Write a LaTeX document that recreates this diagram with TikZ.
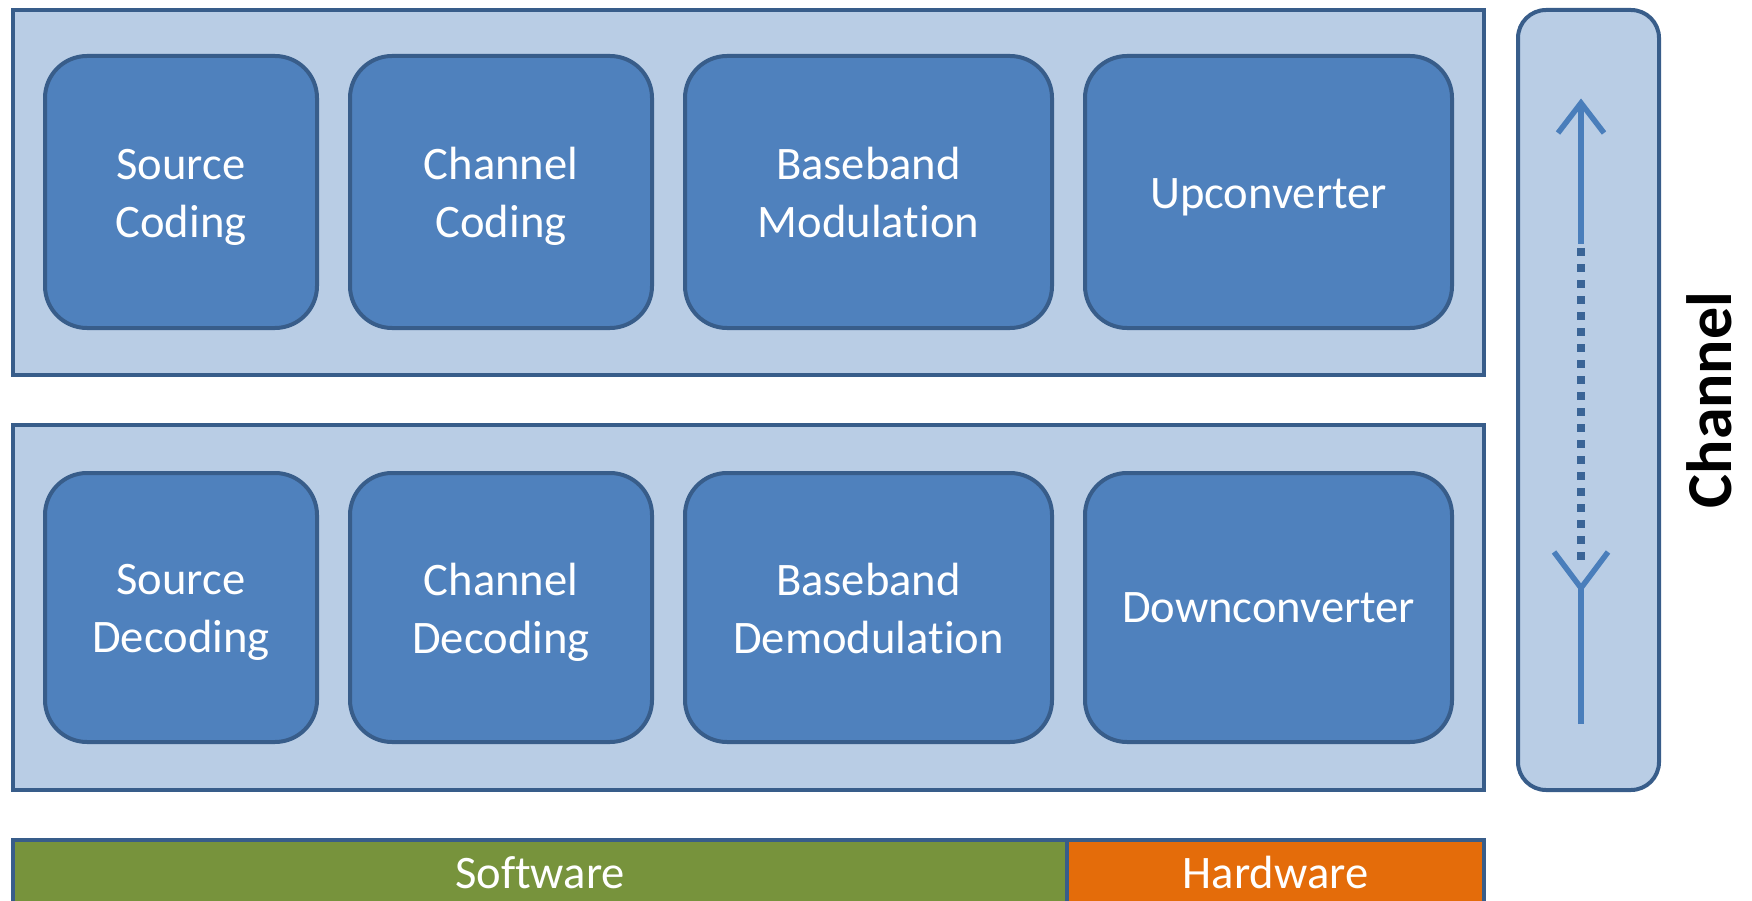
\documentclass[tikz,border=0pt]{standalone}
\usepackage{fontspec}
\setmainfont{Carlito}[Ligatures=NoCommon]
\definecolor{edge}{HTML}{385D8A}
\definecolor{panelfill}{HTML}{B9CDE5}
\definecolor{blockfill}{HTML}{4F81BD}
\definecolor{arrowblue}{HTML}{4A7EBB}
\definecolor{dotblue}{HTML}{3A6496}
\definecolor{swgreen}{HTML}{77933C}
\definecolor{hworange}{HTML}{E46C0A}
\begin{document}
\begin{tikzpicture}[x=1pt,y=-1pt,
  panel/.style={draw=edge, fill=panelfill, line width=4pt},
  block/.style={draw=edge, fill=blockfill, line width=4pt, rounded corners=42pt,
    inner sep=0pt, minimum height=272pt},
  lowblock/.style={block, minimum height=269pt},
  lbl/.style={text=white, font=\fontsize{46.6}{58}\selectfont, align=center, inner sep=0pt},
  barpart/.style={draw=edge, line width=4pt, text=white,
    font=\fontsize{46.6}{58}\selectfont, inner sep=0pt, minimum height=65pt},
  arrowline/.style={draw=arrowblue, line width=5.5pt},
  dotline/.style={draw=dotblue, line width=8pt, dash pattern=on 8pt off 8pt}]
\useasboundingbox (0,0) rectangle (1752,901);
\clip (0,0) rectangle (1752,901);

% transmitter and receiver panels
\path[panel] (13,10) rectangle (1484,375);
\path[panel] (13,425) rectangle (1484,790);

% transmitter chain
\node[block, minimum width=272pt] (srccod) at (181,192) {};
\node[block, minimum width=302pt] (chcod) at (501,192) {};
\node[block, minimum width=367pt] (bbmod) at (868.5,192) {};
\node[block, minimum width=367pt] (upconv) at (1268.5,192) {};
\node[lbl] (srccod-t) at ([yshift=-5pt]srccod.center) {Source\\Coding};
\node[lbl] (chcod-t) at ([yshift=-4.5pt]chcod.center) {Channel\\Coding};
\node[lbl] (bbmod-t) at ([yshift=-0.5pt]bbmod.center) {Baseband\\Modulation};
\node[lbl] (upconv-t) at ([yshift=-5pt]upconv.center) {Upconverter};

% receiver chain
\node[lowblock, minimum width=272pt] (srcdec) at (181,607.5) {};
\node[lowblock, minimum width=302pt] (chdec) at (501,607.5) {};
\node[lowblock, minimum width=367pt] (bbdemod) at (868.5,607.5) {};
\node[lowblock, minimum width=367pt] (downconv) at (1268.5,607.5) {};
\node[lbl] (srcdec-t) at ([yshift=-5pt]srcdec.center) {Source\\Decoding};
\node[lbl] (chdec-t) at ([yshift=-4.5pt]chdec.center) {Channel\\Decoding};
\node[lbl] (bbdemod-t) at ([yshift=-0.5pt]bbdemod.center) {Baseband\\Demodulation};
\node[lbl] (downconv-t) at ([yshift=0pt]downconv.center) {Downconverter};

% channel column
\path[panel, rounded corners=28pt] (1518,10) rectangle (1659,790);
\node[rotate=90, inner sep=0pt, font=\fontsize{64}{70}\selectfont\bfseries] (chlabel) at (1709,400) {Channel};

% channel arrows
\coordinate (upTip) at (1581,103);
\coordinate (upTail) at (1581,244);
\coordinate (upL) at (1558,133);
\coordinate (upR) at (1604,133);
\coordinate (dotTop) at (1581,248);
\coordinate (dotBot) at (1581,560);
\coordinate (dnTip) at (1581,588);
\coordinate (dnL) at (1554,552);
\coordinate (dnR) at (1608,552);
\coordinate (dnTail) at (1581,724);
\draw[arrowline] (upTail) -- (upTip);
\draw[arrowline] (upL) -- (upTip) -- (upR);
\draw[dotline] (dotTop) -- (dotBot);
\draw[arrowline] (dnTail) -- (dnTip);
\draw[arrowline] (dnL) -- (dnTip) -- (dnR);

% software / hardware bar
\node[barpart, fill=swgreen, minimum width=1054pt] (sw) at (540,872.5) {Software};
\node[barpart, fill=hworange, minimum width=417pt] (hw) at (1275.5,872.5) {Hardware};
\end{tikzpicture}
\end{document}
